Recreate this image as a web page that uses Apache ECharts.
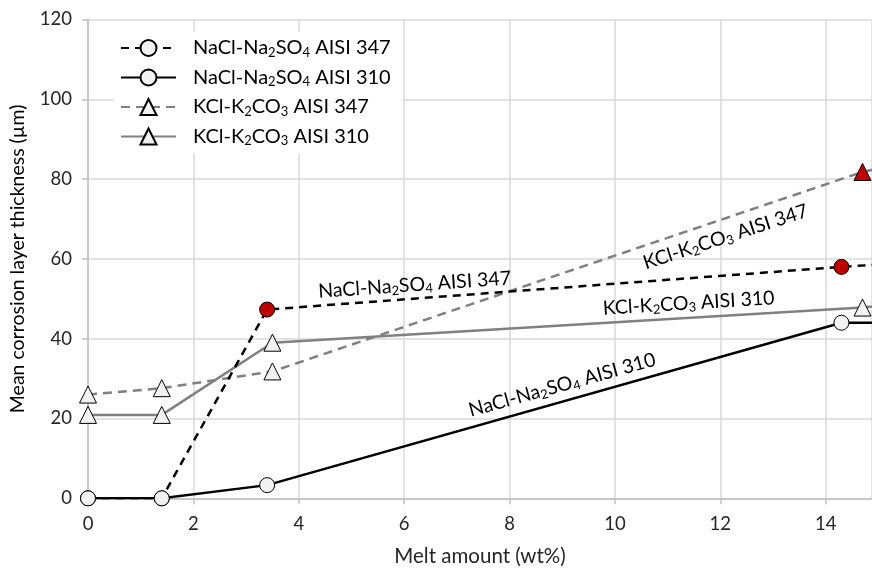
<!DOCTYPE html>
<html>
<head>
<meta charset="utf-8">
<script src="https://cdn.jsdelivr.net/npm/echarts@6/dist/echarts.min.js"></script>
<style>
  html, body { margin: 0; padding: 0; background: #fff; }
  #chart { width: 872px; height: 568px; }
</style>
</head>
<body>
<div id="chart"></div>
<script>
// data: [melt amount (wt%), thickness (um)]
const nacl347 = [[0, 0], [1.4, 0], [3.4, 47.3], [14.3, 58], [16, 59.4]];
const nacl310 = [[0, 0], [1.4, 0], [3.4, 3.3], [14.3, 44], [16, 44]];
const kcl347 = [[0, 26], [1.4, 27.6], [3.5, 31.8], [14.7, 81.8], [16, 85.5]];
const kcl310 = [[0, 20.9], [1.4, 20.9], [3.5, 39], [14.7, 47.8], [16, 49.6]];
const names = ['NaCl-Na2SO4 AISI 347', 'NaCl-Na2SO4 AISI 310', 'KCl-K2CO3 AISI 347', 'KCl-K2CO3 AISI 310'];
// which points are highlighted red (index into each series)
const redNacl347 = [2, 3];
const redKcl347 = [3];
// in-line labels: [x, y, rotation]
const lblNacl347 = [6.2, 53.5, 4];
const lblKcl347 = [12.1, 65.5, 18];
const lblKcl310 = [11.4, 48.9, 3.5];
const lblNacl310 = [9.0, 28.4, 15.5];

const FONT = 'Lato';
const pale = '#f2f2f2';
const red = '#c00000';

function rich(name) {
  return name.replace(/(Na|K)2/, '$1{sub|2}').replace(/(SO|CO)(\d)/, '$1{sub|$2}');
}
const richStyle = {
  sub: { fontSize: 13, fontFamily: FONT, color: '#000', verticalAlign: 'bottom', padding: [9, 0, 0, 0] }
};

function pts(arr, reds) {
  return arr.map((p, i) => {
    const d = { value: p };
    if (p[0] > 15) d.symbol = 'none';
    if (reds.indexOf(i) >= 0) d.itemStyle = { color: red };
    return d;
  });
}

function lineLabel(l, name) {
  return {
    symbol: 'circle',
    symbolSize: 0,
    silent: true,
    data: [{
      coord: [l[0], l[1]],
      label: {
        show: true,
        position: 'inside',
        rotate: l[2],
        formatter: rich(name),
        fontFamily: FONT,
        fontSize: 19.5,
        color: '#000',
        rich: richStyle
      }
    }]
  };
}

const chart = echarts.init(document.getElementById('chart'));
chart.setOption({
  animation: false,
  grid: { left: 88, right: 0, top: 19.5, bottom: 69.7, containLabel: false, outerBoundsMode: 'none' },
  legend: {
    orient: 'vertical',
    left: 114,
    top: 32,
    itemWidth: 55,
    itemHeight: 20,
    itemGap: 8.5,
    backgroundColor: '#fff',
    padding: [6, 12, 6, 6],
    textStyle: { fontFamily: FONT, fontSize: 20, color: '#000', rich: richStyle, padding: [0, 0, 0, 12] },
    formatter: n => rich(n),
    data: names
  },
  xAxis: {
    type: 'value',
    min: 0, max: 14.88, interval: 2,
    name: 'Melt amount (wt%)',
    nameLocation: 'middle',
    nameGap: 48,
    nameTextStyle: { fontFamily: FONT, fontSize: 20.5, color: '#262626' },
    axisLine: { show: true, lineStyle: { color: '#bfbfbf', width: 1.5 } },
    axisTick: { show: true, length: 6, lineStyle: { color: '#bfbfbf', width: 1.5 } },
    axisLabel: { fontFamily: FONT, fontSize: 18.5, color: '#262626', margin: 16, showMaxLabel: false },
    splitLine: { show: true, lineStyle: { color: '#d9d9d9', width: 1.5 } }
  },
  yAxis: {
    type: 'value',
    min: 0, max: 120, interval: 20,
    name: 'Mean corrosion layer thickness (µm)',
    nameLocation: 'middle',
    nameGap: 60,
    nameTextStyle: { fontFamily: FONT, fontSize: 19.5, color: '#000' },
    axisLine: { show: true, lineStyle: { color: '#bfbfbf', width: 1.5 } },
    axisTick: { show: true, length: 6, lineStyle: { color: '#bfbfbf', width: 1.5 } },
    axisLabel: { fontFamily: FONT, fontSize: 18.5, color: '#262626', margin: 16 },
    splitLine: { show: true, lineStyle: { color: '#d9d9d9', width: 1.5 } }
  },
  series: [
    {
      name: names[1], type: 'line', z: 3,
      data: pts(nacl310, []),
      symbol: 'circle', symbolSize: 15, showAllSymbol: true,
      lineStyle: { color: '#000', width: 2.5 },
      itemStyle: { color: pale, borderColor: '#000', borderWidth: 1 },
      markPoint: lineLabel(lblNacl310, names[1])
    },
    {
      name: names[3], type: 'line', z: 2,
      data: pts(kcl310, []),
      symbol: 'triangle', symbolSize: 17, showAllSymbol: true,
      lineStyle: { color: '#808080', width: 2.5 },
      itemStyle: { color: pale, borderColor: '#000', borderWidth: 1 },
      markPoint: lineLabel(lblKcl310, names[3])
    },
    {
      name: names[2], type: 'line', z: 2,
      data: pts(kcl347, redKcl347),
      symbol: 'triangle', symbolSize: 17, showAllSymbol: true,
      lineStyle: { color: '#808080', width: 2.5, type: [9, 6] },
      itemStyle: { color: pale, borderColor: '#000', borderWidth: 1 },
      markPoint: lineLabel(lblKcl347, names[2])
    },
    {
      name: names[0], type: 'line', z: 4,
      data: pts(nacl347, redNacl347),
      symbol: 'circle', symbolSize: 15, showAllSymbol: true,
      lineStyle: { color: '#000', width: 2.5, type: [8, 6] },
      itemStyle: { color: pale, borderColor: '#000', borderWidth: 1 },
      markPoint: lineLabel(lblNacl347, names[0])
    }
  ]
});
</script>
</body>
</html>
